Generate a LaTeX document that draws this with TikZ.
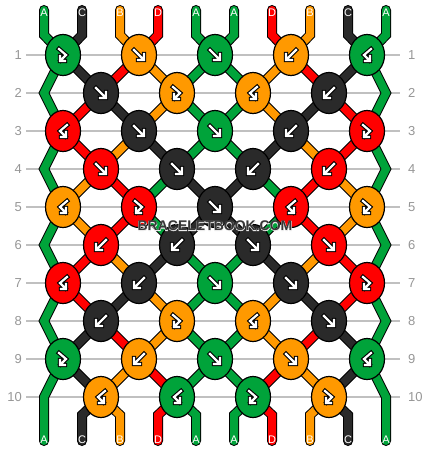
\documentclass[tikz,border=0pt]{standalone}
\usepackage{fontspec}
\setmainfont{Liberation Sans}
\newfontfamily\wmhalofont[FakeBold=4]{Liberation Sans Bold}
\usetikzlibrary{shapes.geometric}
\definecolor{cG}{RGB}{0,163,58}
\definecolor{cK}{RGB}{42,42,42}
\definecolor{cO}{RGB}{255,153,0}
\definecolor{cR}{RGB}{255,0,0}
\definecolor{labgray}{RGB}{150,150,150}
\definecolor{linegray}{RGB}{192,192,192}
\definecolor{wmgray}{RGB}{55,55,55}
\definecolor{wmhalo}{RGB}{235,235,235}
\pgfdeclarelayer{gridlayer}
\pgfdeclarelayer{strandlayer}
\pgfsetlayers{gridlayer,strandlayer,main}
\tikzset{
  knot/.style={ellipse, draw=black, line width=1.2pt, minimum width=35pt, minimum height=41pt, inner sep=0pt},
  sout/.style={draw=black, line width=10pt, line cap=round, line join=miter},
  sin/.style={line width=8pt, line cap=round, line join=miter},
  aout/.style={draw=black, line width=4.4pt, line cap=rect, line join=miter},
  ain/.style={draw=white, line width=2.2pt, line cap=rect, line join=miter},
  rowlab/.style={text=labgray, font=\fontsize{13}{13}\selectfont, inner ysep=0pt},
  strlab/.style={text=white, font=\fontsize{11}{11}\selectfont, inner sep=0pt},
  wmfont/.style={font=\bfseries\fontsize{14}{14}\selectfont, inner sep=0pt},
  gridline/.style={draw=linegray, line width=1.4pt},
  arF/.pic={\foreach \s in {aout,ain} \draw[\s] (-5,-5) -- (4,4) (5,-1) -- (5,5) -- (-1,5);},
  arB/.pic={\foreach \s in {aout,ain} \draw[\s] (5,-5) -- (-4,4) (-5,-1) -- (-5,5) -- (1,5);},
  arFB/.pic={\foreach \s in {aout,ain} \draw[\s] (-4,-6) -- (3,0) -- (-2.5,5.5) (-3,1) -- (-3,6) -- (2,6);},
  arBF/.pic={\foreach \s in {aout,ain} \draw[\s] (4,-6) -- (-3,0) -- (2.5,5.5) (3,1) -- (3,6) -- (-2,6);}
}
\newcommand\strandpath[2]{\draw[sout] #1; \draw[sin,draw=#2] #1;}
\begin{document}
\begin{tikzpicture}[x=1pt,y=-1pt]
\useasboundingbox (0,0) rectangle (430,452);

% knots
\foreach \r/\lst in {1/{cG/FB,cO/F,cG/F,cO/B,cG/BF},
 2/{cK/F,cO/FB,cO/BF,cK/B},
 3/{cR/BF,cK/F,cG/F,cK/B,cR/FB},
 4/{cR/F,cK/F,cK/B,cR/B},
 5/{cO/BF,cR/FB,cK/F,cR/BF,cO/FB},
 6/{cR/B,cK/B,cK/F,cR/F},
 7/{cR/BF,cK/B,cG/F,cK/F,cR/FB},
 8/{cK/B,cO/FB,cO/BF,cK/F},
 9/{cG/FB,cO/B,cG/F,cO/F,cG/BF},
 10/{cO/BF,cG/BF,cG/FB,cO/FB}} {
  \pgfmathsetmacro\yy{55+38*(\r-1)}
  \pgfmathsetmacro\xo{isodd(\r) ? 63 : 101}
  \foreach \c/\a [count=\k] in \lst {
    \node[knot, fill=\c] (n\r-\k) at ({\xo+76*(\k-1)},\yy) {};
    \pic at (n\r-\k.center) {ar\a};
  }
}

% edge points
\foreach \r in {2,4,...,10} {
  \coordinate (n\r-0) at (44,{55+38*(\r-1)});
  \coordinate (n\r-5) at (386,{55+38*(\r-1)});
}
% top and bottom points
\foreach \p in {1,...,10} {
  \pgfmathsetmacro\xx{44+38*(\p-1)}
  \coordinate (t\p) at (\xx,10);
  \coordinate (b\p) at (\xx,35);
  \coordinate (u\p) at (\xx,415);
  \coordinate (e\p) at (\xx,441);
}

% row labels and grid lines
\foreach \r in {1,...,10} {
  \pgfmathsetmacro\yy{55+38*(\r-1)}
  \node[rowlab, anchor=east, inner xsep=4pt] (ll\r) at (26,\yy) {\r};
  \node[rowlab, anchor=west, inner xsep=8pt] (lr\r) at (400,\yy) {\r};
  \begin{pgfonlayer}{gridlayer}
    \draw[gridline] (ll\r.east) -- (lr\r.west);
  \end{pgfonlayer}
}

\begin{pgfonlayer}{strandlayer}
% edge strands
\strandpath{(t1) -- (b1) -- (n1-1.center) -- (n2-0) -- (n3-1.center) -- (n4-0) -- (n5-1.center) -- (n6-0) -- (n7-1.center) -- (n8-0) -- (n9-1.center) -- (n10-0) -- (e1)}{cG}
\strandpath{(t10) -- (b10) -- (n1-5.center) -- (n2-5) -- (n3-5.center) -- (n4-5) -- (n5-5.center) -- (n6-5) -- (n7-5.center) -- (n8-5) -- (n9-5.center) -- (n10-5) -- (e10)}{cG}
% top stubs
\foreach \c [count=\i from 2] in {cK,cO,cR,cG,cG,cR,cO,cK} {
  \pgfmathtruncatemacro\kb{int((\i+1)/2)}
  \strandpath{(t\i) -- (b\i) -- (n1-\kb.center)}{\c}
}
% inner segments
\foreach \r/\lst in {1/{cK,cR,cO,cG,cG,cO,cR,cK},
 2/{cR,cK,cO,cG,cG,cO,cK,cR},
 3/{cR,cO,cK,cG,cG,cK,cO,cR},
 4/{cO,cR,cG,cK,cK,cG,cR,cO},
 5/{cO,cR,cG,cK,cK,cG,cR,cO},
 6/{cR,cO,cK,cG,cG,cK,cO,cR},
 7/{cR,cK,cO,cG,cG,cO,cK,cR},
 8/{cK,cR,cO,cG,cG,cO,cR,cK},
 9/{cK,cO,cR,cG,cG,cR,cO,cK}} {
  \pgfmathtruncatemacro\rr{\r+1}
  \foreach \c [count=\i from 2] in \lst {
    \pgfmathtruncatemacro\ka{isodd(\r) ? int((\i+1)/2) : int(\i/2)}
    \pgfmathtruncatemacro\kb{isodd(\rr) ? int((\i+1)/2) : int(\i/2)}
    \strandpath{(n\r-\ka.center) -- (n\rr-\kb.center)}{\c}
  }
}
% bottom stubs
\foreach \c [count=\i from 2] in {cK,cO,cR,cG,cG,cR,cO,cK} {
  \pgfmathtruncatemacro\ka{int(\i/2)}
  \strandpath{(n10-\ka.center) -- (u\i) -- (e\i)}{\c}
}
\end{pgfonlayer}

% strand letters
\foreach \l [count=\p] in {A,C,B,D,A,A,D,B,C,A} {
  \node[strlab] (tl\p) at ({44+38*(\p-1)},13) {\l};
  \node[strlab] (bl\p) at ({44+38*(\p-1)},440) {\l};
}

% watermark: light halo behind dark text
\node[inner sep=0pt, text=wmhalo, font=\wmhalofont\fontsize{14}{14}\selectfont] (wmh) at (215,226) {BRACELETBOOK.COM};
\node[wmfont, text=wmgray] (wm) at (215,226) {BRACELETBOOK.COM};
\end{tikzpicture}
\end{document}
